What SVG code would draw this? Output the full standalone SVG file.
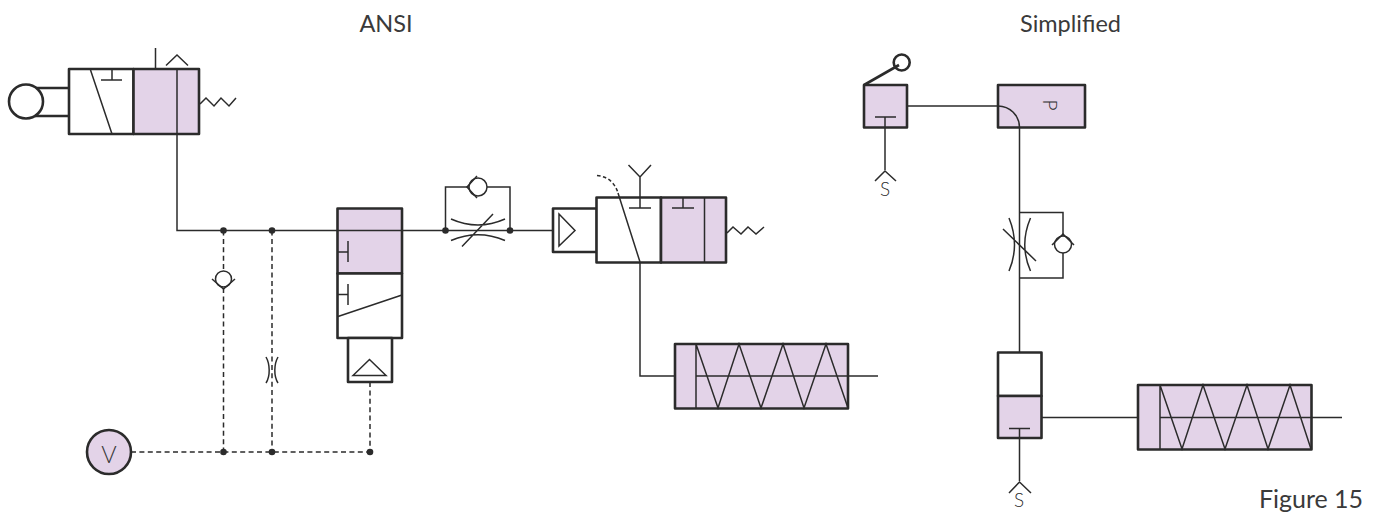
<svg xmlns="http://www.w3.org/2000/svg" width="1382" height="515" viewBox="0 0 1382 515">
<style>
.box{fill:#fff;stroke:#2b2b2b;stroke-width:2.6;stroke-linejoin:round}
.p{fill:#e3d3e8}
.l{fill:none;stroke:#2b2b2b;stroke-width:1.5;stroke-linejoin:miter}
.d{fill:none;stroke:#2b2b2b;stroke-width:1.5;stroke-dasharray:5 3.4}
.dot{fill:#2b2b2b}
.t{font-family:"Lato","Open Sans",sans-serif;font-weight:400;fill:#3a3a3a;font-size:23.500px;text-anchor:middle}
.s{font-family:"Lato","Open Sans",sans-serif;font-weight:300;fill:#2b2b2b;font-size:19px;text-anchor:middle}
</style>
<rect width="1382" height="515" fill="#fff"/>
<text class="t" x="386" y="31.500">ANSI</text>
<text class="t" x="1070.500" y="31.500">Simplified</text>
<text class="t" x="1311" y="508" style="font-size:25px">Figure 15</text>

<g id="valve-a">
<path class="box" d="M35 88H69M35 116H69" fill="none"/>
<circle class="box" cx="26" cy="101.500" r="17"/>
<rect class="box" x="69" y="69" width="64.500" height="65"/>
<rect class="box p" x="133.500" y="69" width="65.500" height="65"/>
<path class="l" d="M90.500 70L112 134M112 70V80M101 80H122M155.500 48V69M166 65.500L177 55L188 65.500M200 104L206 98L214 106L221 98L229 106L236 98"/>
</g>
<g id="valve-b">
<rect class="box p" x="337.500" y="208.500" width="64.500" height="65"/>
<rect class="box" x="337.500" y="273.500" width="64.500" height="64.500"/>
<rect class="box" x="348" y="338" width="44" height="44"/>
<path class="l" d="M338 252H348M348 241V262M338 294.500H348M348 284V305M338 316.500L402 295M353 375.500L369.500 359.500L386 375.500Z"/>
</g>
<g id="gauge-v">
<circle class="box p" cx="109" cy="452" r="22"/>
<text class="t" x="109" y="463" style="font-weight:300">V</text>
</g>
<g id="check-a">
<circle class="l" cx="223.500" cy="279" r="8" style="fill:#fff"/>
<path class="l" d="M212 279L223.500 289L235 279"/>
</g>
<g id="restrictor-a">
<path class="l" d="M266 357C270 364 270.500 376 266 383M278 357C274 364 273.500 376 278 383"/>
</g>
<g id="flow-control-a">
<circle class="l" cx="478" cy="187" r="9"/>
<path class="l" d="M477 176L467 187L477 198M451 219Q478 231 505 219M451 240.500Q478 229 505 240.500M462 246.500L493 214"/>
</g>
<g id="valve-c">
<rect class="box" x="553" y="208.500" width="44" height="43.500"/>
<rect class="box" x="596.500" y="197.500" width="64.500" height="65"/>
<rect class="box p" x="661" y="197.500" width="65" height="65"/>
<path class="l" d="M559 214L575 230.500L559 246ZM618 193L640 262M640 208V176M628.500 165L640 177L651 165M629 208H651M683 198V208M672 208H694M704.500 198V262M727 233L733 227L741 234L748 227L756 234L764 227"/>
<path class="l" d="M597 175.500Q613 177 618 193" stroke-dasharray="3.500 2.500"/>
</g>
<g id="cylinder-a">
<rect class="box p" x="675" y="344" width="173" height="64.500"/>
<path class="l" d="M696 344V408M696 376H878M696 344L718 408L739 344L761 408L783 344L804 408L826 344L848 408"/>
</g>
<g id="valve-d">
<rect class="box p" x="864" y="85" width="43" height="42.500"/>
<circle class="box" cx="901.700" cy="62.500" r="8" style="fill:none"/>
<path class="box" d="M864 85L899 65" style="fill:none"/>
<path class="l" d="M875 117H896M885 117V170M875 181L885 171L896 181"/>
<text class="s" x="885" y="196">S</text>
</g>
<g id="valve-e">
<rect class="box p" x="998" y="85" width="87" height="42.500"/>
<text class="s" transform="translate(1043 99.500) rotate(90)" style="text-anchor:start">P</text>
</g>
<g id="flow-control-b">
<circle class="l" cx="1063" cy="244.500" r="8.500"/>
<path class="l" d="M1052 245L1063 234L1074 245M1009 218Q1020 245 1009 271M1030.500 218Q1019 245 1030.500 271M1003 229L1036 261"/>
</g>
<g id="valve-f">
<rect class="box" x="998" y="352.500" width="43.500" height="43.500"/>
<rect class="box p" x="998" y="396" width="43.500" height="42"/>
<path class="l" d="M1009 428.500H1030M1019.500 428.500V481M1009 493L1019.500 482L1031 493"/>
<text class="s" x="1019" y="507">S</text>
</g>
<g id="cylinder-b">
<rect class="box p" x="1138" y="385" width="173.500" height="64.500"/>
<path class="l" d="M1160 385V449M1160 417.500H1342M1160 385L1182 449L1203 385L1225 449L1247 385L1268 449L1290 385L1311 449"/>
</g>
<g id="connectors">
<path class="l" d="M177 70V230.500H553"/>
<path class="l" d="M445.500 230.500V187H469M487 187H510V230.500"/>
<path class="l" d="M640 262V376H675"/>
<path class="l" d="M907 106H998A21.500 21.500 0 0 1 1019.500 127.500V352.500"/>
<path class="l" d="M1019.500 212.500H1063V236M1063 253V278H1019.500"/>
<path class="l" d="M1042 417.500H1138"/>
<path class="d" d="M223.500 230.500V271M223.500 288V452M272 230.500V452M370 382V452M131 452H370"/>
<circle class="dot" cx="223.500" cy="230.500" r="3.300"/>
<circle class="dot" cx="272" cy="230.500" r="3.300"/>
<circle class="dot" cx="445.500" cy="230.500" r="3.300"/>
<circle class="dot" cx="510" cy="230.500" r="3.300"/>
<circle class="dot" cx="223.500" cy="452" r="3.300"/>
<circle class="dot" cx="272" cy="452" r="3.300"/>
<circle class="dot" cx="370" cy="452" r="3.300"/>
</g>
</svg>
